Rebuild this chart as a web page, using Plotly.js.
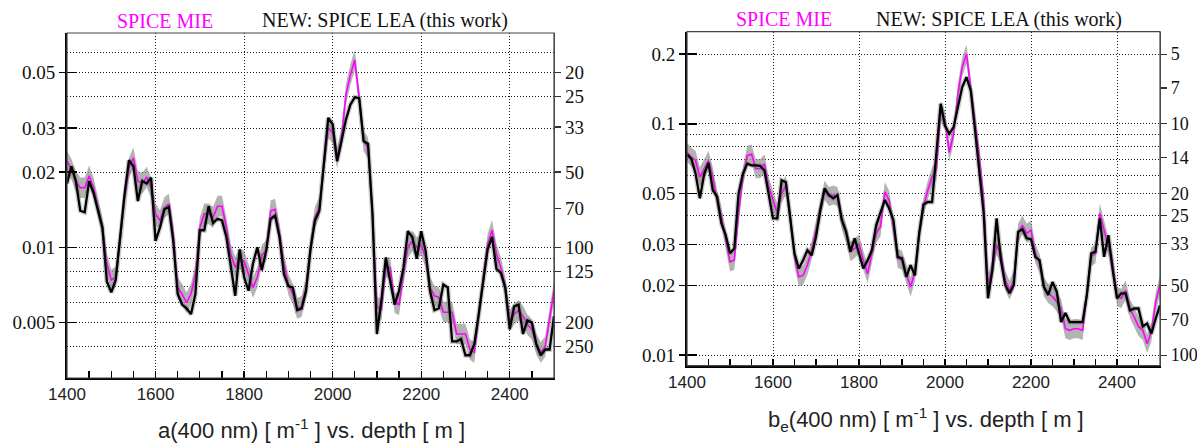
<!DOCTYPE html>
<html><head><meta charset="utf-8">
<script src="https://cdn.plot.ly/plotly-3.0.1.min.js"></script>
<style>html,body{margin:0;padding:0;background:#fff}#chart{width:1197px;height:445px}</style>
</head><body><div id="chart"></div>
<script>
const depth = [1400,1410,1420,1430,1440,1450,1460,1470,1480,1490,
 1500,1510,1520,1530,1540,1550,1560,1570,1580,1590,
 1600,1610,1620,1630,1640,1650,1660,1670,1680,1690,
 1700,1710,1720,1730,1740,1750,1760,1770,1780,1790,
 1800,1810,1820,1830,1840,1850,1860,1870,1880,1890,
 1900,1910,1920,1930,1940,1950,1960,1970,1980,1990,
 2000,2010,2020,2030,2040,2050,2060,2070,2080,2090,
 2100,2110,2120,2130,2140,2150,2160,2170,2180,2190,
 2200,2210,2220,2230,2240,2250,2260,2270,2280,2290,
 2300,2310,2320,2330,2340,2350,2360,2370,2380,2390,
 2400,2410,2420,2430,2440,2450,2460,2470,2480,2490,
 2500];

// absorption a(400nm) [1/m]
const absLea = [0.0180,0.0211,0.0184,0.0140,0.0138,0.0184,0.0165,0.0142,0.0120,0.0073,
 0.0066,0.0074,0.0110,0.0163,0.0223,0.0211,0.0153,0.0184,0.0180,0.0190,
 0.0106,0.0120,0.0142,0.0145,0.0106,0.0065,0.0059,0.0057,0.0054,0.0065,
 0.0117,0.0117,0.0146,0.0125,0.0130,0.0128,0.0110,0.0083,0.0064,0.0098,
 0.0076,0.0067,0.0086,0.0100,0.0081,0.0097,0.0130,0.0134,0.0110,0.0078,
 0.0070,0.0069,0.0056,0.0057,0.0067,0.0098,0.0128,0.0140,0.0221,0.0329,
 0.0311,0.0221,0.0266,0.0324,0.0372,0.0398,0.0395,0.0266,0.0259,0.0136,
 0.0045,0.0061,0.0091,0.0074,0.0059,0.0067,0.0083,0.0116,0.0110,0.0090,
 0.0116,0.0097,0.0067,0.0056,0.0057,0.0071,0.0069,0.0042,0.0042,0.0043,
 0.0037,0.0037,0.0041,0.0054,0.0074,0.0098,0.0110,0.0082,0.0079,0.0069,
 0.0047,0.0058,0.0059,0.0045,0.0051,0.0050,0.0041,0.0037,0.0039,0.0039,
 0.0053];
const absMie = [0.0221,0.0205,0.0184,0.0173,0.0173,0.0193,0.0173,0.0144,0.0120,0.0086,
 0.0074,0.0076,0.0106,0.0158,0.0208,0.0228,0.0184,0.0180,0.0191,0.0173,
 0.0136,0.0128,0.0144,0.0149,0.0113,0.0069,0.0065,0.0060,0.0065,0.0078,
 0.0120,0.0136,0.0136,0.0132,0.0146,0.0146,0.0120,0.0094,0.0083,0.0090,
 0.0088,0.0078,0.0069,0.0076,0.0093,0.0097,0.0140,0.0142,0.0113,0.0086,
 0.0071,0.0065,0.0057,0.0058,0.0069,0.0100,0.0132,0.0144,0.0214,0.0300,
 0.0287,0.0228,0.0274,0.0407,0.0489,0.0561,0.0395,0.0266,0.0250,0.0136,
 0.0058,0.0056,0.0083,0.0083,0.0060,0.0059,0.0078,0.0100,0.0106,0.0100,
 0.0102,0.0091,0.0069,0.0064,0.0063,0.0055,0.0055,0.0055,0.0045,0.0045,
 0.0045,0.0039,0.0038,0.0054,0.0074,0.0103,0.0117,0.0094,0.0083,0.0069,
 0.0051,0.0054,0.0056,0.0053,0.0049,0.0047,0.0041,0.0038,0.0040,0.0051,
 0.0067];

// effective scattering b_e(400nm) [1/m]
const scatLea = [0.0736,0.0707,0.0608,0.0476,0.0608,0.0678,0.0516,0.0484,0.0371,0.0330,
 0.0276,0.0289,0.0500,0.0608,0.0672,0.0661,0.0661,0.0658,0.0629,0.0484,
 0.0390,0.0390,0.0570,0.0559,0.0397,0.0275,0.0237,0.0257,0.0284,0.0270,
 0.0325,0.0424,0.0525,0.0492,0.0476,0.0492,0.0384,0.0341,0.0280,0.0320,
 0.0275,0.0237,0.0257,0.0284,0.0365,0.0417,0.0468,0.0431,0.0384,0.0266,
 0.0262,0.0218,0.0245,0.0221,0.0336,0.0448,0.0459,0.0459,0.0740,0.122,
 0.0981,0.0905,0.0967,0.118,0.144,0.159,0.139,0.0935,0.0608,0.0410,
 0.0176,0.0233,0.0390,0.0257,0.0201,0.0185,0.0201,0.0341,0.0350,0.0320,
 0.0317,0.0266,0.0257,0.0197,0.0182,0.0207,0.0188,0.0139,0.0152,0.0139,
 0.0139,0.0139,0.0139,0.0182,0.0275,0.0280,0.0390,0.0266,0.0330,0.0233,
 0.0176,0.0185,0.0185,0.0156,0.0159,0.0159,0.0133,0.0137,0.0124,0.0144,
 0.0164];
const scatMie = [0.0753,0.0718,0.0694,0.0589,0.0639,0.0694,0.0589,0.0468,0.0397,0.0315,
 0.0253,0.0257,0.0410,0.0589,0.0729,0.0740,0.0639,0.0639,0.0672,0.0534,
 0.0468,0.0410,0.0500,0.0542,0.0397,0.0266,0.0218,0.0221,0.0245,0.0284,
 0.0347,0.0424,0.0516,0.0484,0.0492,0.0484,0.0384,0.0336,0.0280,0.0289,
 0.0303,0.0257,0.0225,0.0275,0.0336,0.0359,0.0508,0.0468,0.0359,0.0262,
 0.0257,0.0225,0.0197,0.0229,0.0336,0.0438,0.0516,0.0589,0.0629,0.114,
 0.103,0.0753,0.0905,0.135,0.176,0.200,0.144,0.103,0.0718,0.0468,
 0.0204,0.0233,0.0298,0.0275,0.0211,0.0191,0.0211,0.0336,0.0365,0.0336,
 0.0347,0.0275,0.0249,0.0197,0.0185,0.0179,0.0170,0.0159,0.0130,0.0128,
 0.0130,0.0130,0.0128,0.0185,0.0266,0.0275,0.0410,0.0347,0.0294,0.0249,
 0.0179,0.0176,0.0191,0.0159,0.0146,0.0133,0.0128,0.0112,0.0126,0.0170,
 0.0201];

const bandRel = 0.10; // relative half-width of grey uncertainty band

const depthTicks = [1400,1600,1800,2000,2200,2400];
const absLeftTicks = [0.005,0.01,0.02,0.03,0.05];
const absLeftText = ['0.005','0.01','0.02','0.03','0.05'];
const absGrid = [0.004,0.006,0.007,0.008,0.009,0.04,0.06];
const absRightVals = [0.05,0.04,0.0303,0.02,0.01429,0.01,0.008,0.005,0.004];
const absRightText = ['20','25','33','50','70','100','125','200','250'];
const scatLeftTicks = [0.01,0.02,0.03,0.05,0.1,0.2];
const scatLeftText = ['0.01','0.02','0.03','0.05','0.1','0.2'];
const scatGrid = [0.04,0.06,0.07,0.08,0.09];
const scatRightVals = [0.2,0.1429,0.1,0.0714,0.05,0.04,0.0303,0.02,0.01429,0.01];
const scatRightText = ['5','7','10','14','20','25','33','50','70','100'];

const SERIF = '"Liberation Serif", "Times New Roman", serif';
const SANS = '"Liberation Sans", Arial, sans-serif';
const GRID = {gridcolor:'#1a1a1a', griddash:'1px,2px', gridwidth:1};

function band(vals, xa, ya){
  const up = vals.map(v => v*(1+bandRel));
  const lo = vals.map(v => v/(1+bandRel));
  return {x: depth.concat(depth.slice().reverse()), y: up.concat(lo.slice().reverse()),
    xaxis:xa, yaxis:ya, type:'scatter', mode:'lines', fill:'toself',
    fillcolor:'rgba(150,150,150,0.72)', line:{width:0}, hoverinfo:'skip', showlegend:false};
}
function line(vals, xa, ya, color, w){
  return {x: depth, y: vals, xaxis:xa, yaxis:ya, type:'scatter', mode:'lines',
    line:{color:color, width:w}, showlegend:false};
}

const data = [
  band(absMie,'x','y'),
  line(absMie,'x','y2','#ff00ff',1.6),
  line(absLea,'x','y3','rgba(110,110,110,0.35)',5),
  line(absLea,'x','y3','#000000',2.3),
  band(scatMie,'x2','y4'),
  line(scatMie,'x2','y5','#ff00ff',1.6),
  line(scatLea,'x2','y6','rgba(110,110,110,0.35)',5),
  line(scatLea,'x2','y6','#000000',2.3)
];

function xax(domain, anchor){
  return Object.assign({domain:domain, anchor:anchor, range:[1400,2500], tickvals:depthTicks,
    ticktext: depthTicks.map(String), ticks:'inside', ticklen:7, tickwidth:1.3, tickcolor:'#000',
    showgrid:true, zeroline:false, showline:true, linewidth:2, linecolor:'#000',
    tickfont:{family:SANS, size:17, color:'#222'},
    minor:{dtick:50, tick0:1400, ticks:'inside', ticklen:7, tickwidth:1.3, tickcolor:'#000', showgrid:false}
  }, GRID);
}
function ymain(domain, anchor, range, tv, tt, grid){
  return Object.assign({domain:domain, anchor:anchor, type:'log', range:range, tickvals:tv, ticktext:tt,
    ticks:'outside', ticklen:6, tickwidth:1.5, tickcolor:'#000', showgrid:true, zeroline:false,
    showline:true, linewidth:2, linecolor:'#000', tickfont:{family:SERIF, size:19, color:'#111'},
    minor:Object.assign({tickmode:'array', tickvals:grid, ticks:'', showgrid:true}, GRID)
  }, GRID);
}
function yright(anchor, over, range, tv, tt, fs){
  return {overlaying:over, anchor:anchor, side:'right', type:'log', range:range, tickvals:tv, ticktext:tt,
    ticks:'outside', ticklen:6, tickwidth:1.2, tickcolor:'#333', showgrid:false, zeroline:false,
    showline:true, linewidth:1.2, linecolor:'#555', tickfont:{family:SERIF, size:fs, color:'#111'}};
}
function yinner(anchor, over, range, tv){
  return {overlaying:over, anchor:anchor, side:'left', type:'log', range:range, tickvals:tv,
    ticks:'inside', ticklen:10, tickwidth:1.5, tickcolor:'#000', showticklabels:false,
    showgrid:false, zeroline:false, showline:false};
}

const absRange = [Math.log10(0.003), Math.log10(0.003) + 345/250];
const scatRange = [Math.log10(0.009), Math.log10(0.25)];

const W = 1197, H = 445;
const px = v => v/W, py = v => (H - v)/H;

const layout = {
  width:W, height:H, margin:{l:0,r:0,t:0,b:0}, paper_bgcolor:'#fff', plot_bgcolor:'#fff',
  showlegend:false,
  xaxis: xax([px(67), px(554)], 'y'),
  yaxis: ymain([py(378), py(33)], 'x', absRange, absLeftTicks, absLeftText, absGrid),
  yaxis2: yright('x', 'y', absRange, absRightVals, absRightText, 19),
  yaxis3: yinner('x', 'y', absRange, absLeftTicks),
  xaxis2: xax([px(687), px(1160)], 'y4'),
  yaxis4: ymain([py(365.7), py(31.7)], 'x2', scatRange, scatLeftTicks, scatLeftText, scatGrid),
  yaxis5: yright('x2', 'y4', scatRange, scatRightVals, scatRightText, 18),
  yaxis6: yinner('x2', 'y4', scatRange, scatLeftTicks),
  shapes: [
    {type:'rect', xref:'x domain', yref:'y domain', x0:0, x1:1, y0:0, y1:1, line:{color:'#444', width:1.2}, layer:'above'},
    {type:'rect', xref:'x2 domain', yref:'y4 domain', x0:0, x1:1, y0:0, y1:1, line:{color:'#444', width:1.2}, layer:'above'}
  ],
  annotations: [
    {text:'SPICE MIE', xref:'paper', yref:'paper', x:px(164.5), y:py(21), xanchor:'center', yanchor:'middle', showarrow:false, font:{family:SERIF, size:20, color:'#ff00ff'}},
    {text:'NEW: SPICE LEA (this work)', xref:'paper', yref:'paper', x:px(385), y:py(21), xanchor:'center', yanchor:'middle', showarrow:false, font:{family:SERIF, size:20, color:'#111'}},
    {text:'SPICE MIE', xref:'paper', yref:'paper', x:px(784), y:py(19), xanchor:'center', yanchor:'middle', showarrow:false, font:{family:SERIF, size:20, color:'#ff00ff'}},
    {text:'NEW: SPICE LEA (this work)', xref:'paper', yref:'paper', x:px(998.5), y:py(19), xanchor:'center', yanchor:'middle', showarrow:false, font:{family:SERIF, size:20, color:'#111'}},
    {text:'a(400 nm) [ m<sup>-1</sup> ] vs. depth [ m ]', xref:'paper', yref:'paper', x:px(311), y:py(429), xanchor:'center', yanchor:'middle', showarrow:false, font:{family:SANS, size:22, color:'#222'}},
    {text:'b<sub>e</sub>(400 nm) [ m<sup>-1</sup> ] vs. depth [ m ]', xref:'paper', yref:'paper', x:px(926), y:py(419), xanchor:'center', yanchor:'middle', showarrow:false, font:{family:SANS, size:22, color:'#222'}}
  ]
};

Plotly.newPlot('chart', data, layout, {staticPlot:true, displayModeBar:false});
</script>
</body></html>
